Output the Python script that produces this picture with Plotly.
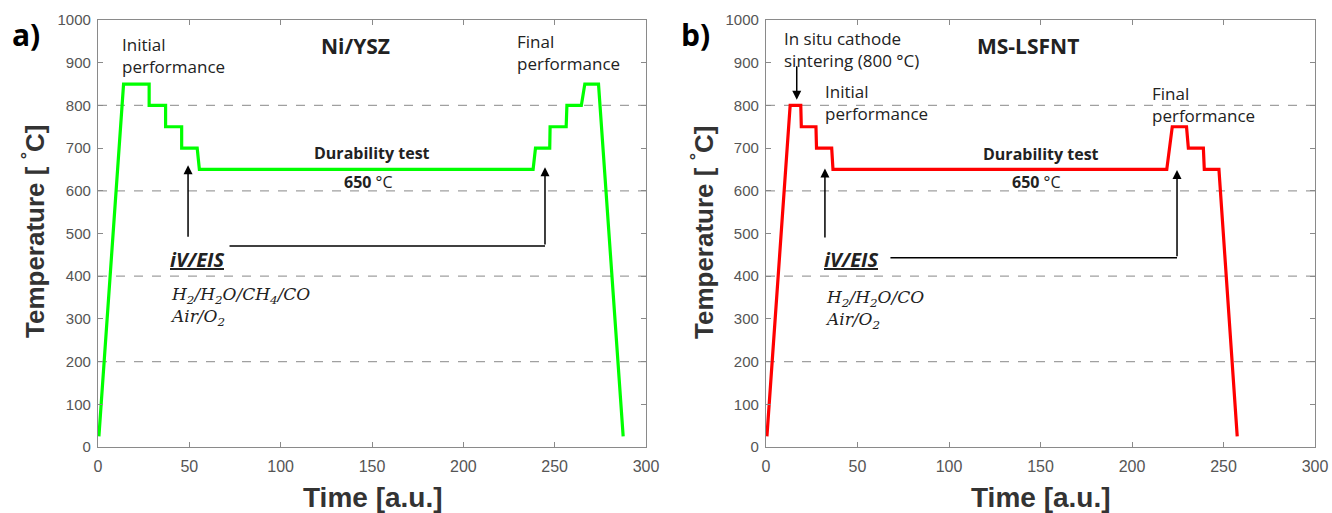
import plotly.graph_objects as go

# ---------------- data ----------------
time_ni = [0.5, 14, 28, 28, 37, 37, 45.8, 45.8, 54.3, 55.5, 238.2, 239.5, 247.3, 247.5, 256.3, 256.7, 264.6, 266.5, 274, 287.5]
temp_ni = [25, 850, 850, 800, 800, 750, 750, 700, 700, 650, 650, 700, 700, 750, 750, 800, 800, 850, 850, 25]

time_ms = [0.5, 13.2, 19, 19.3, 27.3, 27.6, 35.9, 36.6, 219, 222, 229.8, 230.8, 239, 239.5, 247.5, 257.5]
temp_ms = [25, 800, 800, 750, 750, 700, 700, 650, 650, 750, 750, 700, 700, 650, 650, 25]

grid_levels = [200, 400, 600, 800]
x_ticks = [0, 50, 100, 150, 200, 250, 300]
y_ticks = [0, 100, 200, 300, 400, 500, 600, 700, 800, 900, 1000]

W, H = 1332, 513
TXT = "Open Sans"
TICKF = "Liberation Sans"

fig = go.Figure()
fig.add_trace(go.Scatter(x=time_ni, y=temp_ni, mode="lines",
                         line=dict(color="#00ff00", width=3.2), xaxis="x", yaxis="y",
                         showlegend=False, hoverinfo="skip"))
fig.add_trace(go.Scatter(x=time_ms, y=temp_ms, mode="lines",
                         line=dict(color="#ff0000", width=3.2), xaxis="x2", yaxis="y2",
                         showlegend=False, hoverinfo="skip"))

ydom = [(H - 447) / H, (H - 20) / H]
axcol = "#8a8a8a"
common_x = dict(range=[0, 300], tickvals=x_ticks, showgrid=False, zeroline=False,
                showline=True, mirror="ticks", linecolor=axcol, linewidth=1.3,
                ticks="inside", ticklen=5, tickcolor=axcol, automargin=False,
                ticklabelstandoff=5,
                tickfont=dict(family=TICKF, size=16, color="#555555"))
common_y = dict(range=[0, 1000], tickvals=y_ticks, showgrid=False, zeroline=False,
                showline=True, mirror="ticks", linecolor=axcol, linewidth=1.3,
                ticks="inside", ticklen=5, tickcolor=axcol, automargin=False,
                ticklabelstandoff=3,
                tickfont=dict(family=TICKF, size=15, color="#555555"))

fig.update_layout(
    width=W, height=H, margin=dict(l=0, r=0, t=0, b=0, autoexpand=False),
    paper_bgcolor="white", plot_bgcolor="white",
    xaxis=dict(domain=[98 / W, 646 / W], anchor="y", **common_x),
    yaxis=dict(domain=ydom, anchor="x", **common_y),
    xaxis2=dict(domain=[766 / W, 1315 / W], anchor="y2", **common_x),
    yaxis2=dict(domain=ydom, anchor="x2", **common_y),
)

shapes = []
for xr, yr in (("x", "y"), ("x2", "y2")):
    for g in grid_levels:
        shapes.append(dict(type="line", xref=xr, yref=yr, x0=0, x1=300, y0=g, y1=g,
                           line=dict(color="#a0a0a0", width=1.2, dash="dash"), layer="below"))

# connector lines for iV/EIS
shapes.append(dict(type="line", xref="x", yref="y", x0=72, x1=244.7, y0=471, y1=471,
                   line=dict(color="black", width=1.5)))
shapes.append(dict(type="line", xref="x2", yref="y2", x0=68, x1=224.6, y0=443, y1=443,
                   line=dict(color="black", width=1.5)))
fig.update_layout(shapes=shapes)

ann = []

def arrow(xr, yr, x, y0, y1):
    ann.append(dict(xref=xr, yref=yr, axref=xr, ayref=yr, x=x, y=y1, ax=x, ay=y0,
                    showarrow=True, arrowhead=2, arrowsize=1.2, arrowwidth=1.5,
                    arrowcolor="black", text=""))

def txt(xr, yr, x, y, text, size=17, xanchor="left", yanchor="middle", font=TXT, color="#222222"):
    ann.append(dict(xref=xr, yref=yr, x=x, y=y, text=text, showarrow=False,
                    xanchor=xanchor, yanchor=yanchor, align="left",
                    font=dict(family=font, size=size, color=color)))

# ---- panel a ----
arrow("x", "y", 49.3, 489, 660)
arrow("x", "y", 244.7, 471, 655)
txt("x", "y", 12.3, 916, "Initial<br>performance")
txt("x", "y", 228.5, 923, "Final<br>performance")
txt("x", "y", 141, 940, "<b>Ni/YSZ</b>", size=21, xanchor="center")
txt("x", "y", 150, 688, "<b>Durability test</b>", size=16, xanchor="center")
txt("x", "y", 148, 620, "<b>650</b> °C", size=16, xanchor="center")
txt("x", "y", 38.5, 440, "<b><i><u>iV/EIS</u></i></b>", size=20)
txt("x", "y", 38.5, 330, "<i>H<sub>2</sub>/H<sub>2</sub>O/CH<sub>4</sub>/CO</i><br><i>Air/O<sub>2</sub></i>",
    size=17, font="DejaVu Serif")

# ---- panel b ----
arrow("x2", "y2", 16.8, 895, 813)
arrow("x2", "y2", 32.2, 487, 652)
arrow("x2", "y2", 224.6, 443, 649)
txt("x2", "y2", 9, 932, "In situ cathode<br>sintering (800 °C)")
txt("x2", "y2", 31, 806, "Initial<br>performance")
txt("x2", "y2", 210, 802, "Final<br>performance")
txt("x2", "y2", 143, 940, "<b>MS-LSFNT</b>", size=21, xanchor="center")
txt("x2", "y2", 150, 686, "<b>Durability test</b>", size=16, xanchor="center")
txt("x2", "y2", 148, 620, "<b>650</b> °C", size=16, xanchor="center")
txt("x2", "y2", 30.5, 440, "<b><i><u>iV/EIS</u></i></b>", size=20)
txt("x2", "y2", 31, 323, "<i>H<sub>2</sub>/H<sub>2</sub>O/CO</i><br><i>Air/O<sub>2</sub></i>",
    size=17, font="DejaVu Serif")

# panel labels and axis titles
for xl, lab in ((10, "a)"), (679, "b)")):
    ann.append(dict(xref="paper", yref="paper", x=xl / W, y=1 - 34 / H, text=f"<b>{lab}</b>",
                    showarrow=False, xanchor="left", yanchor="middle",
                    font=dict(family=TXT, size=30, color="black")))
for xc in (33, 702):
    ann.append(dict(xref="paper", yref="paper", x=xc / W, y=1 - 232 / H,
                    text="<b>Temperature [ <sup>°</sup>C]</b>", textangle=-90,
                    showarrow=False, xanchor="center", yanchor="middle",
                    font=dict(family=TICKF, size=26, color="#333333")))
for xc in (373, 1041):
    ann.append(dict(xref="paper", yref="paper", x=xc / W, y=1 - 497 / H,
                    text="<b>Time [a.u.]</b>", showarrow=False, xanchor="center", yanchor="middle",
                    font=dict(family=TICKF, size=28, color="#333333")))

fig.update_layout(annotations=ann)
fig.write_html("out.html")
